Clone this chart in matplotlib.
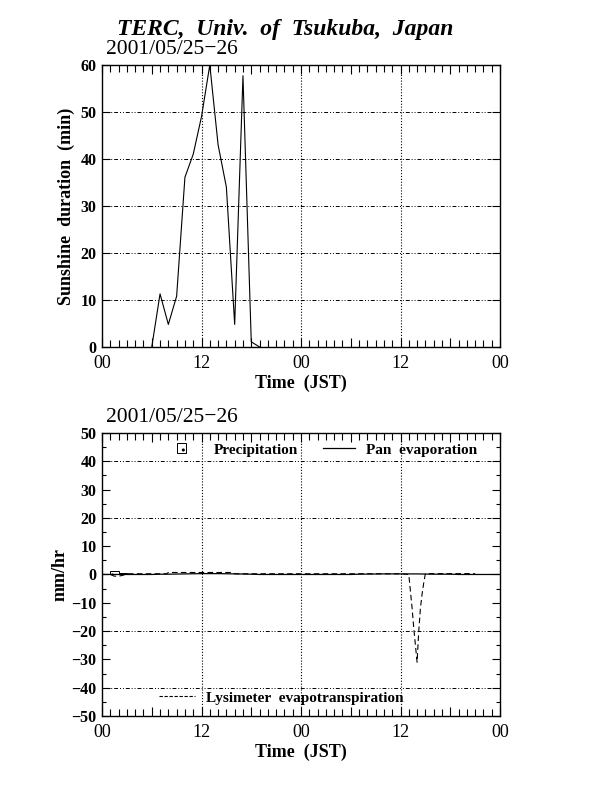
import numpy as np
import matplotlib
matplotlib.use('Agg')
from matplotlib import pyplot as plt
from matplotlib.ticker import FixedLocator, FixedFormatter, MultipleLocator
from matplotlib.patches import Patch
from matplotlib.lines import Line2D

plt.rcParams['font.family'] = ['Liberation Serif', 'DejaVu Serif']

DATE_LABEL = '2001/05/25\u221226'
hour_ticks = [0, 6, 12, 18, 24, 30, 36, 42, 48]
hour_labels = ['00', '', '12', '', '00', '', '12', '', '00']

# sunshine duration (min per hour), day 1 only
sun_hours = [6, 7, 8, 9, 10, 11, 12, 13, 14, 15, 16, 17, 18, 19]
sun_minutes = [0, 11.3, 4.8, 10.8, 36.1, 41, 49, 60, 43, 34, 4.8, 57.7, 1.1, 0]

# precipitation (mm/hr), hour bins starting at
precip_hours = [1, 2]
precip_mm = [1.3, 0.5]

# pan evaporation (mm/hr)
pan_hours = [0, 6, 7, 8, 10, 12, 14, 16, 18, 19, 24, 30, 31, 34, 36, 38, 40, 42, 43, 48]
pan_mm = [0.0, 0.0, 0.1, 0.1, 0.2, 0.3, 0.3, 0.2, 0.1, 0.0, 0.0, 0.0, 0.1, 0.2, 0.2, 0.2, 0.1, 0.1, 0.0, 0.0]

# lysimeter evapotranspiration (mm/hr)
lys_hours = [0, 1, 1.5, 2, 2.5, 3, 7.8, 8, 15.8, 16, 36, 37,
             37.2, 37.4, 37.6, 37.8, 38, 38.2, 38.4, 38.6, 38.8, 39, 45]
lys_mm = [0, 0, -0.6, -0.6, -0.3, 0.25, 0.25, 0.7, 0.7, 0.25, 0.25, 0,
          -6, -12, -19, -25, -31, -20, -12, -7, -3, 0.3, 0.3]

hgrid = dict(color='black', lw=0.7, linestyle=(0, (4, 2, 1, 2, 1, 2)))
vgrid = dict(color='black', lw=0.8, linestyle=(0, (1, 1.6)))


def style_time_axis(ax):
    ax.set_xlim(0, 48)
    ax.xaxis.set_major_locator(FixedLocator(hour_ticks))
    ax.xaxis.set_major_formatter(FixedFormatter(hour_labels))
    ax.xaxis.set_minor_locator(MultipleLocator(1))
    ax.tick_params(axis='x', which='major', direction='in', top=True, length=6.7, width=0.8,
                   pad=6, labelsize=13)
    ax.tick_params(axis='x', which='minor', direction='in', top=True, length=4.8, width=0.8)
    ax.tick_params(axis='y', which='both', direction='in', right=True, width=0.8, pad=4)
    for lab in ax.get_yticklabels():
        lab.set_fontweight('bold')
        lab.set_fontsize(11.5)
    for s in ax.spines.values():
        s.set_linewidth(1.0)
    for h in (12, 24, 36):
        ax.axvline(h, zorder=1, **vgrid)
    ax.set_xlabel('Time  (JST)', fontsize=13, fontweight='bold', labelpad=2)
    ax.text(0.01, 1.02, DATE_LABEL, transform=ax.transAxes, fontsize=15.5,
            ha='left', va='bottom')


fig = plt.figure(figsize=(6.16, 7.92), dpi=100)
fig.text(0.463, 0.963, 'TERC,  Univ.  of  Tsukuba,  Japan', ha='center', va='center',
         fontsize=17, fontweight='bold', fontstyle='italic')

# top panel: sunshine duration
ax1 = fig.add_axes([0.1656, 0.5619, 0.6461, 0.3561])
ax1.set_ylim(0, 60)
ax1.yaxis.set_major_locator(MultipleLocator(10))
for v in range(10, 60, 10):
    ax1.axhline(v, zorder=1, **hgrid)
ax1.plot(sun_hours, sun_minutes, color='black', lw=0.8, zorder=3)
ax1.tick_params(axis='y', which='major', length=5.5)
style_time_axis(ax1)
ax1.set_ylabel('Sunshine  duration  (min)', fontsize=13, fontweight='bold', labelpad=4)

# bottom panel: water fluxes
ax2 = fig.add_axes([0.1656, 0.0960, 0.6461, 0.3573])
ax2.set_ylim(-50, 50)
ax2.yaxis.set_major_locator(MultipleLocator(10))
ax2.yaxis.set_minor_locator(MultipleLocator(5))
ax2.tick_params(axis='y', which='major', length=5.5)
ax2.tick_params(axis='y', which='minor', length=3.2)
for v in (-40, -20, 20, 40):
    ax2.axhline(v, zorder=1, **hgrid)
ax2.bar(precip_hours, precip_mm, width=1, align='edge', facecolor='white',
        edgecolor='black', linewidth=0.7, hatch='..', zorder=2)
ax2.plot(pan_hours, pan_mm, color='black', lw=0.9, zorder=3)
ax2.plot(lys_hours, lys_mm, color='black', lw=0.8, dashes=(5, 3), zorder=3)
style_time_axis(ax2)
ax2.set_ylabel('mm/hr', fontsize=13, fontweight='bold', labelpad=2)

leg_font = dict(family='Liberation Serif', weight='bold', size=11)
h_pre = Patch(facecolor='white', edgecolor='black', hatch='..', linewidth=0.7)
leg1 = ax2.legend([h_pre], ['Precipitation'], loc='center left', bbox_to_anchor=(0.188, 0.94),
                  frameon=False, prop=leg_font, handlelength=0.6, handleheight=0.6,
                  handletextpad=1.8, borderpad=0, borderaxespad=0)
ax2.add_artist(leg1)
h_pan = Line2D([], [], color='black', lw=0.9)
leg2 = ax2.legend([h_pan], ['Pan  evaporation'], loc='center left', bbox_to_anchor=(0.556, 0.94),
                  frameon=False, prop=leg_font, handlelength=2.1, handletextpad=0.7,
                  borderpad=0, borderaxespad=0)
ax2.add_artist(leg2)
h_lys = Line2D([], [], color='black', lw=0.8, dashes=(3, 1.5))
ax2.legend([h_lys], ['Lysimeter  evapotranspiration'], loc='center left',
           bbox_to_anchor=(0.142, 0.064), frameon=False, prop=leg_font,
           handlelength=2.4, handletextpad=0.7, borderpad=0, borderaxespad=0)

fig.savefig('out.png', dpi=100)
